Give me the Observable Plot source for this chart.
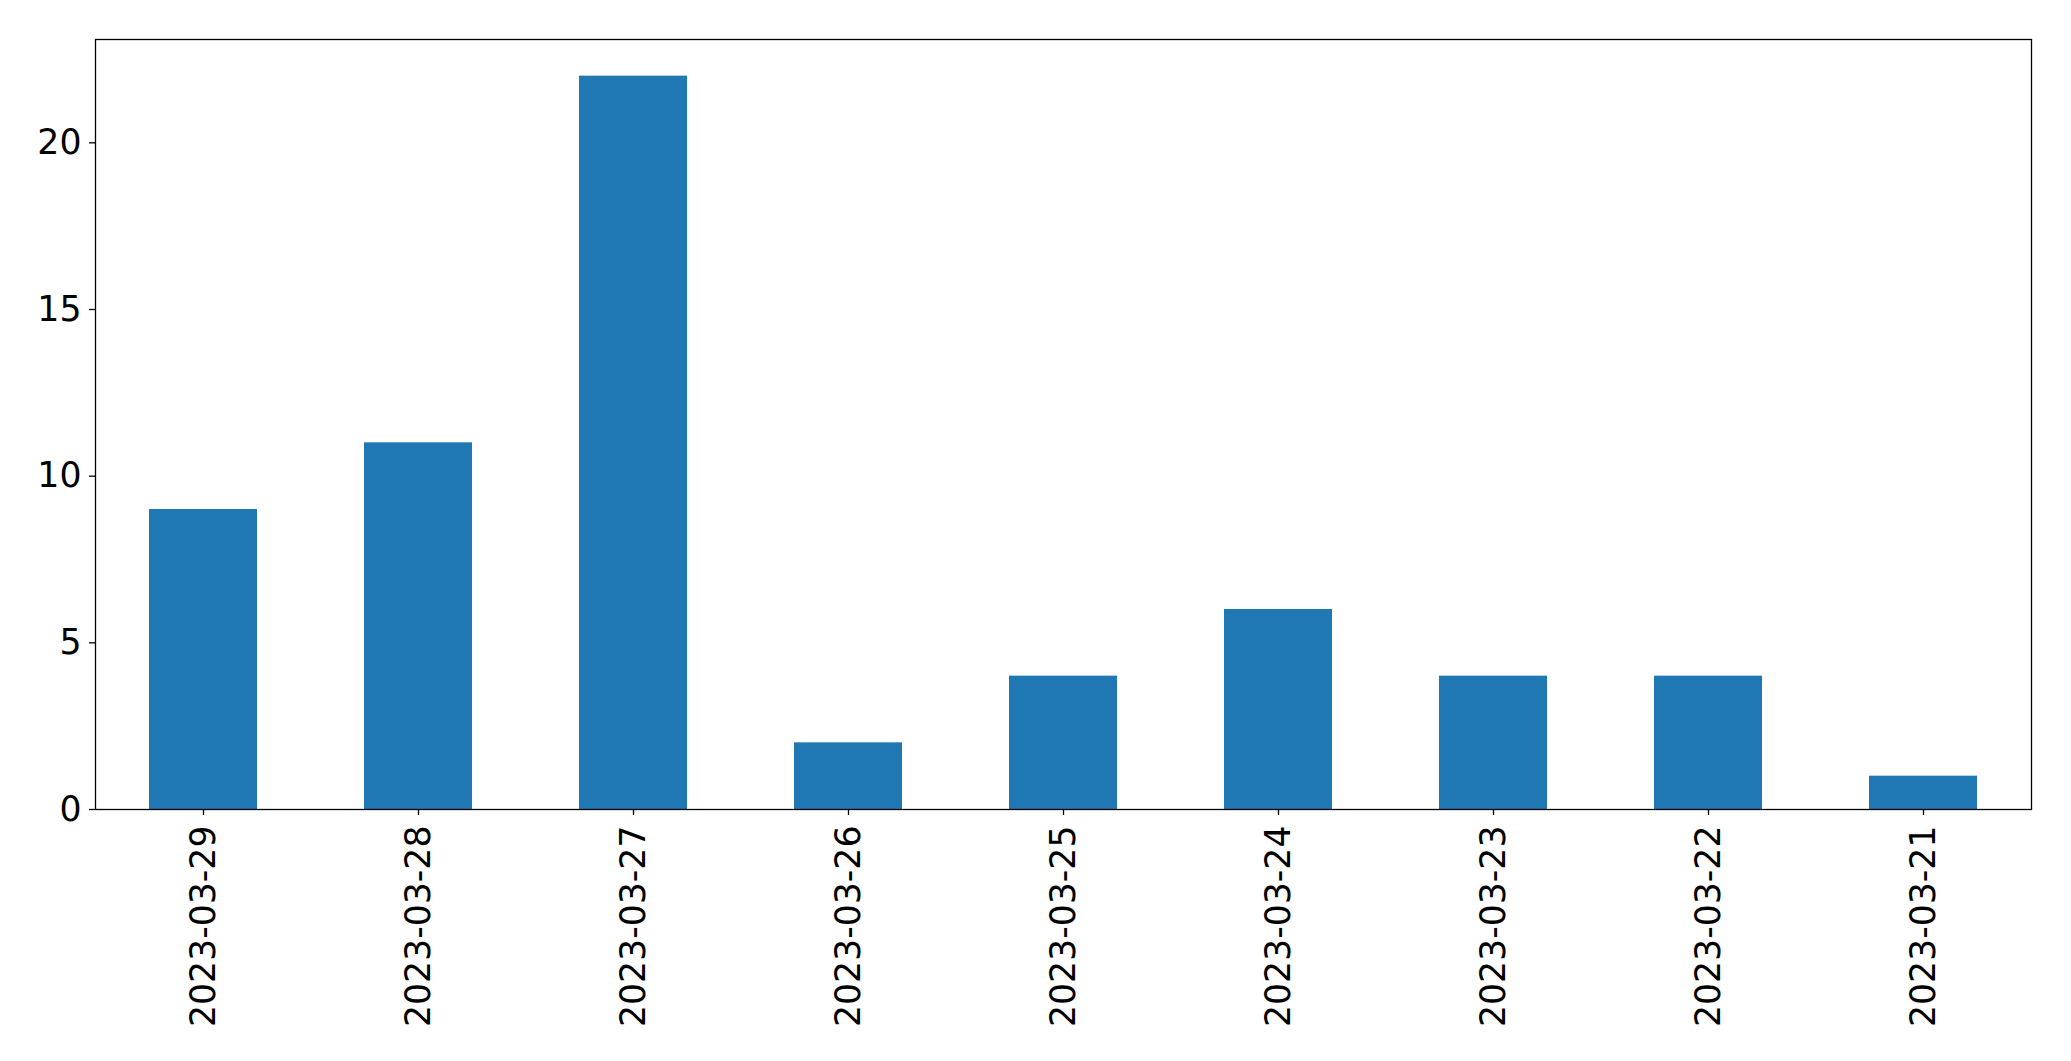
<!DOCTYPE html>
<html>
<head>
<meta charset="utf-8">
<script src="https://cdn.jsdelivr.net/npm/d3@7"></script>
<script src="https://cdn.jsdelivr.net/npm/@observablehq/plot@0.6"></script>
<style>
  html, body { margin: 0; padding: 0; background: #fff; overflow: hidden; }
  #chart svg { display: block; }
</style>
</head>
<body>
<div id="chart"></div>
<script>
const dates = ["2023-03-29", "2023-03-28", "2023-03-27", "2023-03-26", "2023-03-25", "2023-03-24", "2023-03-23", "2023-03-22", "2023-03-21"];
const counts = [9, 11, 22, 2, 4, 6, 4, 4, 1];
const yTicks = [0, 5, 10, 15, 20];

const data = dates.map((d, i) => ({date: d, count: counts[i]}));
const FONT = "DejaVu Sans, sans-serif";
const FS = 34.7;

const chart = Plot.plot({
  width: 2071,
  height: 1061,
  marginLeft: 95,
  marginRight: 40,
  marginTop: 39,
  marginBottom: 252,
  style: {fontFamily: FONT, background: "#fff", color: "#000"},
  x: {domain: dates, paddingInner: 0.5, paddingOuter: 0.25, axis: null},
  y: {domain: [0, 23.1], axis: null},
  marks: [
    Plot.barY(data, {x: "date", y: "count", fill: "#1f77b4"}),
    Plot.axisY({ticks: yTicks, tickSize: 6, tickPadding: 8, fontSize: FS, fontFamily: FONT, label: null, stroke: "#000", strokeWidth: 1.3, fill: "#000"}),
    Plot.axisX({tickSize: 6, tickFormat: () => "", label: null, stroke: "#000", strokeWidth: 1.3}),
    Plot.text(dates, {
      x: d => d,
      frameAnchor: "bottom",
      text: d => d,
      rotate: -90,
      textAnchor: "end",
      lineAnchor: "middle",
      dy: 16,
      fontSize: FS,
      fontFamily: FONT,
      fill: "#000"
    }),
    Plot.frame({stroke: "#000", strokeWidth: 1.3})
  ]
});
document.getElementById("chart").appendChild(chart);
</script>
</body>
</html>
